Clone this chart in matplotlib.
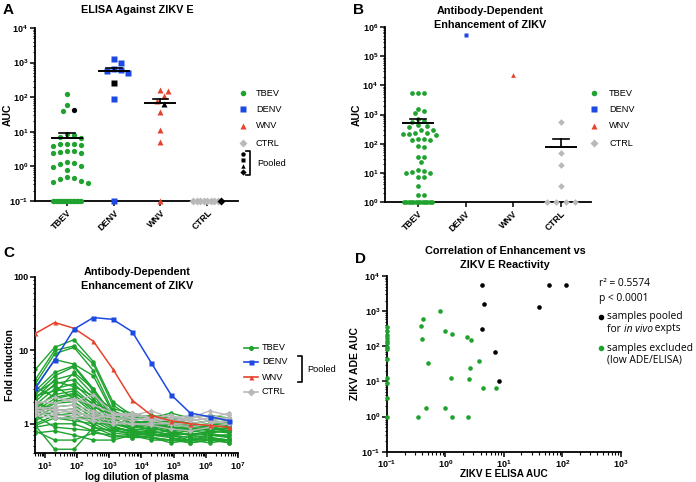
import numpy as np
import matplotlib
matplotlib.use('Agg')
import matplotlib.pyplot as plt
from matplotlib.lines import Line2D
from matplotlib.ticker import LogLocator, FuncFormatter, NullFormatter, FixedLocator

plt.rcParams['font.family'] = ['Liberation Sans', 'DejaVu Sans']
plt.rcParams['mathtext.fontset'] = 'custom'
plt.rcParams['mathtext.rm'] = 'Liberation Sans'
plt.rcParams['mathtext.bf'] = 'Liberation Sans:bold'
plt.rcParams['mathtext.it'] = 'Liberation Sans:italic'

W, H = 696, 482

groups = ['TBEV', 'DENV', 'WNV', 'CTRL']
colors = {'TBEV': '#1fa32e', 'DENV': '#1c48e3', 'WNV': '#e6432c', 'CTRL': '#b9b9b9'}
markers = {'TBEV': 'o', 'DENV': 's', 'WNV': '^', 'CTRL': 'D'}

# ---- A: ELISA against ZIKV E (AUC), 0 = below detection; pooled sample kept apart
elisa = {
    'TBEV': [120, 60, 40, 8.5, 8.0, 7.0, 6.8, 4.5, 4.3, 4.2, 4.0, 4.4, 2.8, 2.6, 2.5, 2.4, 2.7,
             1.3, 1.25, 1.2, 1.0, 0.95, 0.78, 0.48, 0.45, 0.42, 0.38, 0.36, 0.34] + [0] * 21,
    'DENV': [1300, 1000, 660, 620, 560, 500, 88, 0],
    'WNV': [160, 155, 105, 78, 38, 11, 5.2, 0],
    'CTRL': [0] * 8,
}
elisa_pooled = {'TBEV': 42, 'DENV': 250, 'WNV': 64, 'CTRL': 0}

# ---- B: ADE of ZIKV (AUC)
ade = {
    'TBEV': [5400, 5500, 5300, 1600, 1350, 1100, 720, 600, 560, 400, 380, 420, 300, 290,
             230, 215, 220, 205, 235, 140, 130, 145, 135, 80, 75, 35, 36, 24,
             12, 11, 12.5, 10, 9.5, 7, 7, 3.4, 1.75, 1.75] + [0] * 13,
    'DENV': [5.4e5],
    'WNV': [2.3e4],
    'CTRL': [570, 47, 18, 3.6, 0, 0, 0, 0],
}

# ---- C: fold induction vs dilution
dilution = [5, 20, 80, 320, 1280, 5120, 20480, 81920, 327680, 1310720, 5242880]
denv_curve = [3.1, 7.4, 19.5, 28, 26.5, 18, 6.7, 2.5, 1.4, 1.25, 1.1]
wnv_curve = [17, 24, 20, 13.3, 5.6, 2.1, 1.3, 1.1, 1.0, 0.95, 0.9]
tbev_curves = [
    [5.5, 11, 14, 7, 2.0, 1.3, 1.2, 1.1, 1.0, 1.1, 1.0],
    [4.0, 10, 11.5, 6.5, 1.8, 1.2, 1.1, 1.2, 1.0, 0.9, 1.0],
    [3.5, 9, 11, 5.3, 1.5, 1.1, 1.0, 1.0, 0.9, 1.0, 0.9],
    [3.0, 7.5, 6.5, 4.5, 1.4, 1.0, 1.1, 0.9, 0.8, 0.9, 0.8],
    [2.8, 5.0, 6.2, 3.0, 1.3, 1.1, 0.9, 1.0, 0.9, 0.8, 0.9],
    [2.5, 4.5, 6.0, 2.8, 1.2, 0.9, 1.0, 0.8, 0.85, 0.9, 0.85],
    [2.2, 4.0, 4.7, 2.5, 1.1, 1.0, 0.8, 0.9, 0.8, 0.85, 0.8],
    [2.0, 3.5, 4.0, 2.2, 1.2, 0.8, 0.9, 0.75, 0.8, 0.75, 0.8],
    [1.8, 3.0, 3.5, 2.0, 1.0, 0.9, 0.85, 0.8, 0.7, 0.8, 0.75],
    [2.4, 2.8, 3.0, 1.8, 1.1, 1.0, 1.0, 0.9, 0.9, 0.95, 0.9],
    [1.6, 2.5, 2.8, 1.6, 1.0, 0.85, 0.8, 0.7, 0.75, 0.7, 0.7],
    [1.5, 2.2, 2.5, 1.5, 0.9, 0.8, 0.75, 0.8, 0.7, 0.75, 0.65],
    [1.4, 2.0, 2.3, 1.4, 0.95, 0.75, 0.8, 0.7, 0.65, 0.7, 0.7],
    [1.3, 1.9, 2.0, 1.3, 0.9, 0.8, 0.7, 0.75, 0.7, 0.65, 0.6],
    [1.2, 1.7, 1.8, 1.2, 0.85, 0.7, 0.75, 0.65, 0.6, 0.7, 0.65],
    [1.1, 1.5, 1.6, 1.1, 0.8, 0.75, 0.7, 0.7, 0.65, 0.6, 0.6],
    [1.0, 1.3, 1.4, 1.0, 0.75, 0.7, 0.65, 0.6, 0.6, 0.65, 0.55],
    [0.95, 1.2, 1.2, 0.9, 0.7, 0.65, 0.7, 0.65, 0.55, 0.6, 0.6],
    [0.9, 1.0, 1.0, 0.8, 0.65, 0.7, 0.6, 0.6, 0.6, 0.55, 0.6],
    [0.8, 0.6, 0.6, 0.75, 0.7, 0.65, 0.65, 0.6, 0.55, 0.6, 0.55],
    [0.95, 0.45, 0.45, 0.9, 0.8, 0.75, 0.7, 0.7, 0.6, 0.65, 0.6],
    [0.75, 0.8, 0.7, 0.6, 0.6, 0.7, 0.65, 0.55, 0.6, 0.6, 0.6],
    [3.2, 2.3, 2.6, 1.9, 1.5, 1.2, 1.3, 1.2, 1.1, 1.2, 1.1],
    [2.6, 3.8, 3.2, 2.4, 1.6, 1.4, 1.2, 1.4, 1.2, 1.3, 1.2],
    [1.9, 1.6, 1.4, 1.3, 1.2, 1.1, 1.3, 1.1, 1.0, 1.1, 1.2],
    [1.7, 1.2, 1.1, 1.0, 1.0, 0.9, 0.95, 1.0, 0.9, 0.95, 1.0],
    [2.1, 1.4, 1.2, 1.2, 1.1, 1.0, 1.1, 1.05, 0.95, 1.0, 1.05],
    [1.3, 0.9, 0.85, 0.8, 0.85, 0.8, 0.9, 0.85, 0.8, 0.85, 0.8],
    [1.6, 2.6, 5.0, 3.0, 1.3, 1.0, 0.95, 0.9, 0.85, 0.9, 0.8],
    [2.3, 3.3, 2.2, 1.7, 1.3, 1.1, 1.0, 1.1, 1.0, 0.9, 0.95],
]
ctrl_curves = [
    [1.8, 2.3, 2.0, 2.5, 1.4, 1.2, 1.1, 1.0, 1.0, 1.1, 1.2],
    [1.6, 1.7, 1.8, 1.5, 1.3, 1.3, 1.5, 1.2, 1.2, 1.5, 1.3],
    [1.5, 1.6, 1.4, 1.3, 1.2, 1.1, 1.2, 1.1, 1.1, 1.2, 1.4],
    [1.4, 1.3, 1.3, 1.2, 1.1, 1.0, 1.0, 1.0, 0.9, 1.0, 1.1],
    [1.7, 1.5, 1.6, 1.4, 1.2, 1.2, 1.1, 1.2, 1.3, 1.1, 1.0],
    [1.3, 1.2, 1.2, 1.1, 1.0, 1.0, 0.95, 0.85, 0.8, 0.9, 1.0],
    [2.0, 1.9, 2.2, 1.8, 1.4, 1.3, 1.2, 1.3, 1.1, 1.2, 1.2],
    [1.5, 1.4, 1.5, 1.2, 1.3, 1.4, 1.2, 1.1, 1.2, 1.3, 1.1],
]

# ---- D: ADE AUC vs ELISA AUC
pooled_elisa = [4.2, 4.5, 4.2, 7.1, 8.3, 40, 59, 115]
pooled_ade = [5400, 1550, 315, 71, 10.6, 1340, 5400, 5400]
excl_elisa = [0.82, 0.42, 0.38, 0.97, 1.3, 0.40, 2.35, 2.73, 0.50, 3.8, 2.6, 1.25, 2.55,
              4.35, 7.2, 0.47, 1.0, 0.345, 1.3, 2.4] + [0.1] * 13
excl_ade = [1000, 600, 390, 275, 230, 166, 178, 152, 33, 37, 24, 12.3, 11.5, 6.7, 6.7,
            1.8, 1.77, 1.0, 1.0, 1.0] + [360, 265, 213, 170, 144, 120, 97, 81, 44, 12.3, 9.1, 3.3, 1.0]


def fx(px):
    return px / W


def fy(py):
    return 1 - py / H


def rect(l, t, r, b):
    return [fx(l), fy(b), (r - l) / W, (b - t) / H]


def pow10(v, pos):
    return r'$\mathbf{10^{%d}}$' % int(round(np.log10(v)))


def prism_axes(ax):
    for s in ['top', 'right']:
        ax.spines[s].set_visible(False)
    for s in ['left', 'bottom']:
        ax.spines[s].set_linewidth(1.3)
    ax.tick_params(which='major', direction='out', length=3.5, width=1.1, labelsize=6.5, pad=1.5)
    ax.tick_params(which='minor', direction='out', length=1.8, width=0.8)
    for lab in ax.get_xticklabels() + ax.get_yticklabels():
        lab.set_fontweight('bold')


def swarm(vals, xppu, yppd, floor, d, floor_w):
    # simple beeswarm in pixel space; values at the floor are spread evenly
    v = np.asarray(vals, float)
    low = v <= floor
    ly = np.log10(np.where(low, floor, v)) * yppd
    off = np.zeros(len(v))
    placed = []
    idx = np.where(~low)[0]
    for i in idx[np.argsort(-ly[idx])]:
        for k in range(0, 40):
            cand = ((k + 1) // 2) * (1 if k % 2 else -1) * d * 0.55
            ok = all(np.hypot(cand - px, ly[i] - py) >= d for px, py in placed)
            if ok:
                break
        placed.append((cand, ly[i]))
        off[i] = cand
    fl = np.where(low)[0]
    if len(fl) > 1:
        off[fl] = np.linspace(-floor_w, floor_w, len(fl))
    return off / xppu


def column_plot(ax, data, pooled, floor, xppu, yppd, ms, d):
    for i, g in enumerate(groups):
        vals = list(data[g])
        flags = [False] * len(vals)
        if pooled is not None:
            vals.append(pooled[g])
            flags.append(True)
        v = np.array(vals, float)
        off = swarm(v, xppu, yppd, floor, d, 14)
        y = np.where(v > floor, v, floor)
        flags = np.array(flags)
        ax.plot(i + off[~flags], y[~flags], ls='none', marker=markers[g], color=colors[g],
                ms=ms, mec='none', clip_on=False, zorder=3)
        if flags.any():
            ax.plot(i + off[flags], y[flags], ls='none', marker=markers[g], color='black',
                    ms=ms, mec='none', clip_on=False, zorder=4)
        if len(v) < 2:
            continue
        m = v.mean()
        sem = v.std(ddof=1) / np.sqrt(len(v))
        if m > floor:
            ax.plot([i - 0.32, i + 0.32], [m, m], color='black', lw=1.4, zorder=5)
            ax.plot([i, i], [m, m + sem], color='black', lw=1.2, zorder=5)
            ax.plot([i - 0.17, i + 0.17], [m + sem, m + sem], color='black', lw=1.2, zorder=5)


def key(x, y, g, ms=4, color=None, line=False):
    c = color or colors[g]
    if line:
        fig.add_artist(Line2D([fx(x - 7), fx(x + 7)], [fy(y), fy(y)], color=c, lw=1.2,
                              transform=fig.transFigure))
    fig.add_artist(Line2D([fx(x)], [fy(y)], marker=markers[g], color=c, ms=ms, mec='none',
                          ls='none', transform=fig.transFigure))


def bracket(x, y0, y1):
    fig.add_artist(Line2D([fx(x - 4), fx(x), fx(x), fx(x - 4)], [fy(y0), fy(y0), fy(y1), fy(y1)],
                          color='black', lw=1.2, transform=fig.transFigure))


def log_axis(axis, fmt=pow10):
    axis.set_major_locator(LogLocator(base=10, numticks=12))
    axis.set_minor_locator(LogLocator(base=10, subs=np.arange(2, 10), numticks=12))
    axis.set_major_formatter(FuncFormatter(fmt))
    axis.set_minor_formatter(NullFormatter())


fig = plt.figure(figsize=(W / 100, H / 100), dpi=100)

# ---------------- A
axA = fig.add_axes(rect(35, 28, 238, 201))
axA.set_yscale('log')
column_plot(axA, elisa, elisa_pooled, 0.1, 46.7, 34.6, 3.8, 6.5)
axA.set_ylim(0.1, 1e4)
axA.set_xlim(-0.685, 3.66)
log_axis(axA.yaxis)
axA.set_xticks(range(4))
axA.set_xticklabels(groups, rotation=45, ha='right', rotation_mode='anchor', fontsize=7)
prism_axes(axA)
axA.set_ylabel('AUC', fontsize=7.5, fontweight='bold')
axA.yaxis.set_label_coords(-0.11, 0.5)
fig.text(fx(137), fy(10), 'ELISA Against ZIKV E', ha='center', va='center', fontsize=7.8, fontweight='bold')
fig.text(fx(3), fy(10), 'A', ha='left', va='center', fontsize=11, fontweight='bold')

for yy, g in zip([93, 109, 126, 143], groups):
    key(243, yy, g)
    fig.text(fx(256), fy(yy), g, ha='left', va='center', fontsize=6.6)
for yy, g in zip([154, 160, 166, 172], groups):
    key(243, yy, g, ms=3.2, color='black')
bracket(250, 151, 175)
fig.text(fx(257), fy(163), 'Pooled', ha='left', va='center', fontsize=6.6)

# ---------------- B
axB = fig.add_axes(rect(385, 27, 591, 202))
axB.set_yscale('log')
column_plot(axB, ade, None, 1.0, 47.7, 29.2, 3.4, 5.6)
axB.set_ylim(1, 1e6)
axB.set_xlim(-0.69, 3.63)
log_axis(axB.yaxis)
axB.set_xticks(range(4))
axB.set_xticklabels(groups, rotation=45, ha='right', rotation_mode='anchor', fontsize=7)
prism_axes(axB)
axB.set_ylabel('AUC', fontsize=7.5, fontweight='bold')
axB.yaxis.set_label_coords(-0.115, 0.5)
fig.text(fx(490), fy(11), 'Antibody-Dependent', ha='center', va='center', fontsize=7.8, fontweight='bold')
fig.text(fx(490), fy(25), 'Enhancement of ZIKV', ha='center', va='center', fontsize=7.8, fontweight='bold')
fig.text(fx(353), fy(10), 'B', ha='left', va='center', fontsize=11, fontweight='bold')
for yy, g in zip([93, 109, 126, 143], groups):
    key(594, yy, g)
    fig.text(fx(609), fy(yy), g, ha='left', va='center', fontsize=6.6)

# ---------------- C
axC = fig.add_axes(rect(35, 277, 238, 453))
axC.set_xscale('log')
axC.set_yscale('log')
for c in tbev_curves:
    axC.plot(dilution, c, '-o', color=colors['TBEV'], lw=1.0, ms=3.2, mec='none', zorder=2)
for c in ctrl_curves:
    axC.plot(dilution, c, '-D', color=colors['CTRL'], lw=1.0, ms=2.8, mec='none', zorder=3)
axC.plot(dilution, wnv_curve, '-^', color=colors['WNV'], lw=1.1, ms=3.6, mec='none', zorder=4)
axC.plot(dilution, denv_curve, '-s', color=colors['DENV'], lw=1.1, ms=3.6, mec='none', zorder=5)
axC.set_xlim(4.9, 1e7)
axC.set_ylim(0.4, 100)
log_axis(axC.xaxis)
axC.xaxis.set_major_locator(FixedLocator([10.0 ** k for k in range(1, 8)]))
log_axis(axC.yaxis, lambda v, p: '%d' % v)
axC.yaxis.set_major_locator(FixedLocator([1, 10, 100]))
prism_axes(axC)
axC.set_ylabel('Fold induction', fontsize=7.5, fontweight='bold')
axC.yaxis.set_label_coords(-0.1, 0.5)
axC.set_xlabel('log dilution of plasma', fontsize=7.2, fontweight='bold', va='center')
axC.xaxis.set_label_coords(0.5, -0.136)
fig.text(fx(137), fy(272), 'Antibody-Dependent', ha='center', va='center', fontsize=7.8, fontweight='bold')
fig.text(fx(137), fy(286), 'Enhancement of ZIKV', ha='center', va='center', fontsize=7.8, fontweight='bold')
fig.text(fx(3), fy(253), 'C', ha='left', va='center', fontsize=11, fontweight='bold')
for yy, g in zip([348, 362, 377, 392], groups):
    key(251, yy, g, ms=3.6, line=True)
    fig.text(fx(262), fy(yy), g, ha='left', va='center', fontsize=6.6)
bracket(302, 356, 382)
fig.text(fx(307), fy(369), 'Pooled', ha='left', va='center', fontsize=6.6)

# ---------------- D
axD = fig.add_axes(rect(387, 276, 620.7, 451.7))
axD.set_xscale('log')
axD.set_yscale('log')
axD.plot(excl_elisa, excl_ade, 'o', color=colors['TBEV'], ms=3.3, mec='none', clip_on=False, zorder=3)
axD.plot(pooled_elisa, pooled_ade, 'o', color='black', ms=3.3, mec='none', clip_on=False, zorder=4)
axD.set_xlim(0.1, 1000)
axD.set_ylim(0.1, 1e4)
log_axis(axD.xaxis)
log_axis(axD.yaxis)
prism_axes(axD)
axD.set_ylabel('ZIKV ADE AUC', fontsize=7.5, fontweight='bold')
axD.yaxis.set_label_coords(-0.115, 0.5)
axD.set_xlabel('ZIKV E ELISA AUC', fontsize=7.2, fontweight='bold', va='center')
axD.xaxis.set_label_coords(0.5, -0.127)
fig.text(fx(505), fy(251), 'Correlation of Enhancement vs', ha='center', va='center', fontsize=7.8, fontweight='bold')
fig.text(fx(505), fy(265), 'ZIKV E Reactivity', ha='center', va='center', fontsize=7.8, fontweight='bold')
fig.text(fx(355), fy(259), 'D', ha='left', va='center', fontsize=11, fontweight='bold')

lf = 'Open Sans'
fs = 7.4
fig.text(fx(599), fy(284), 'r² = 0.5574', ha='left', va='center', fontsize=fs, family=lf)
fig.text(fx(599), fy(298), 'p < 0.0001', ha='left', va='center', fontsize=fs, family=lf)
fig.add_artist(Line2D([fx(601)], [fy(317)], marker='o', color='black', ms=3, ls='none', transform=fig.transFigure))
fig.add_artist(Line2D([fx(601)], [fy(348)], marker='o', color=colors['TBEV'], ms=3, ls='none', transform=fig.transFigure))
fig.text(fx(607), fy(317), 'samples pooled', ha='left', va='center', fontsize=fs, family=lf)
renderer = fig.canvas.get_renderer()
xx = fx(607)
for part, style in [('for ', 'normal'), ('in vivo', 'italic'), (' expts', 'normal')]:
    t = fig.text(xx, fy(329), part, ha='left', va='center', fontsize=fs, family=lf, style=style)
    xx += t.get_window_extent(renderer).width / W
fig.text(fx(607), fy(348), 'samples excluded', ha='left', va='center', fontsize=fs, family=lf)
fig.text(fx(607), fy(360), '(low ADE/ELISA)', ha='left', va='center', fontsize=fs, family=lf)

fig.savefig('out.png', dpi=100)
